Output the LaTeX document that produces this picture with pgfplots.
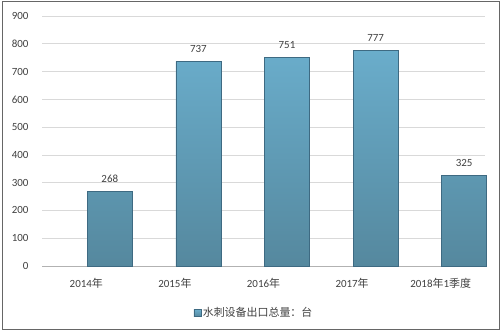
\documentclass[border=0pt]{standalone}
\usepackage{pgfplots}
\pgfplotsset{compat=1.18}
\usepackage{fontspec}
\setmainfont{Carlito}
\newfontfamily\cjk{Noto Sans CJK SC}
\definecolor{bartop}{HTML}{6AADCB}
\definecolor{barbot}{HTML}{55889E}
\definecolor{barline}{HTML}{3E6A82}
\definecolor{txt}{HTML}{404040}
\begin{document}
\begin{tikzpicture}[x=1bp,y=1bp]
\useasboundingbox (0,0) rectangle (503,333);
\draw[draw=gray!80!black, line width=0.8bp] (2,4) rectangle (499,332);
\begin{axis}[
  at={(42bp,67bp)}, anchor=south west,
  scale only axis, width=443bp, height=250bp,
  xmin=-0.5, xmax=4.5, ymin=0, ymax=900,
  ytick={0,100,...,900},
  xtick=data,
  xticklabels={2014{\cjk 年},2015{\cjk 年},2016{\cjk 年},2017{\cjk 年},2018{\cjk 年}1{\cjk 季度}},
  axis x line*=bottom,
  axis y line*=left,
  x axis line style={draw=gray!60, -},
  y axis line style={draw=none},
  ymajorgrids, grid style={draw=gray!30, line width=0.6bp},
  major tick length=0pt,
  yticklabel style={font=\fontsize{11}{12}\selectfont, text=txt, xshift=-10bp},
  xticklabel style={font=\fontsize{11}{12}\selectfont, text=txt, yshift=-9bp},
  /pgf/number format/assume math mode=true,
  /pgf/number format/set thousands separator={},
  ytick style={draw=none},
  xtick style={draw=none},
  ybar, bar width=45bp,
  nodes near coords,
  nodes near coords style={font=\fontsize{11}{12}\selectfont, text=txt, yshift=5bp},
  clip=false,
]
\addplot[draw=barline, line width=0.7bp, top color=bartop, bottom color=barbot, forget plot]
  coordinates {(0,268) (1,737) (2,751) (3,777) (4,325)};
\end{axis}
% legend
\node[anchor=center, font=\fontsize{11}{12}\selectfont, text=txt] at (253,21)
  {\tikz[baseline=-0.6ex]\draw[draw=barline, top color=bartop, bottom color=barbot] (0,-3.5) rectangle (7,3.5);\,{\cjk 水刺设备出口总量：台}};
\end{tikzpicture}
\end{document}
